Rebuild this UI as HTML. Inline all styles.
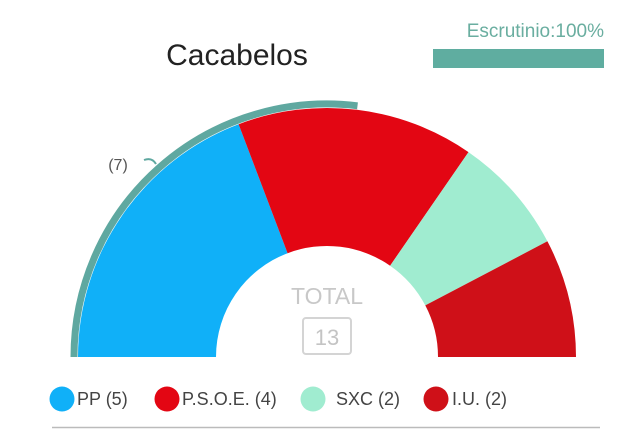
<!DOCTYPE html>
<html><head><meta charset="utf-8"><style>
body{margin:0;background:#fff;width:635px;height:429px;overflow:hidden;font-family:"Liberation Sans",sans-serif;}
</style></head><body>
<svg width="635" height="429" viewBox="0 0 635 429" xmlns="http://www.w3.org/2000/svg" font-family="Liberation Sans, sans-serif">
<text x="237" y="65" font-size="30" text-anchor="middle" fill="#222">Cacabelos</text>
<text x="604" y="37" font-size="19" text-anchor="end" fill="#6aaea0">Escrutinio:100%</text>
<rect x="433" y="49" width="171" height="19" fill="#5fada0"/>
<g transform="translate(327,357)">
<path d="M-249,0 A249,249 0 0 1 -88.4,-232.8 L-39.4,-103.8 A111,111 0 0 0 -111,0 Z" fill="#10b0f8"/>
<path d="M-88.4,-232.8 A249,249 0 0 1 141.5,-204.9 L63.1,-91.3 A111,111 0 0 0 -39.4,-103.8 Z" fill="#e30613"/>
<path d="M141.5,-204.9 A249,249 0 0 1 220.4,-115.7 L98.3,-51.6 A111,111 0 0 0 63.1,-91.3 Z" fill="#a0ecd0"/>
<path d="M220.4,-115.7 A249,249 0 0 1 249,0 L111,0 A111,111 0 0 0 98.3,-51.6 Z" fill="#cf1018"/>
<path d="M-253,0 A253,253 0 0 1 30.5,-251.2" fill="none" stroke="#5fa8a0" stroke-width="7"/>
<path d="M-183,-197 q8,-3 12,4" fill="none" stroke="#5fa8a0" stroke-width="2"/>
<text x="-209" y="-187" font-size="16" fill="#555" text-anchor="middle">(7)</text>
<text x="0" y="-53" font-size="23" fill="#c8c8c8" text-anchor="middle">TOTAL</text>
<rect x="-24" y="-39" width="48" height="36" rx="3" fill="none" stroke="#d4d4d4" stroke-width="2"/>
<text x="0" y="-12" font-size="22" fill="#c4c4c4" text-anchor="middle">13</text>
</g>
<g font-size="18" fill="#444">
<circle cx="62" cy="399" r="12.5" fill="#10b0f8"/><text x="77" y="405">PP (5)</text>
<circle cx="167" cy="399" r="12.5" fill="#e30613"/><text x="182" y="405">P.S.O.E. (4)</text>
<circle cx="313" cy="399" r="12.5" fill="#a0ecd0"/><text x="336" y="405">SXC (2)</text>
<circle cx="436" cy="399" r="12.5" fill="#cf1018"/><text x="452" y="405">I.U. (2)</text>
</g>
<line x1="52" y1="427.5" x2="600" y2="427.5" stroke="#bbb" stroke-width="1.5"/>
</svg>
</body></html>
